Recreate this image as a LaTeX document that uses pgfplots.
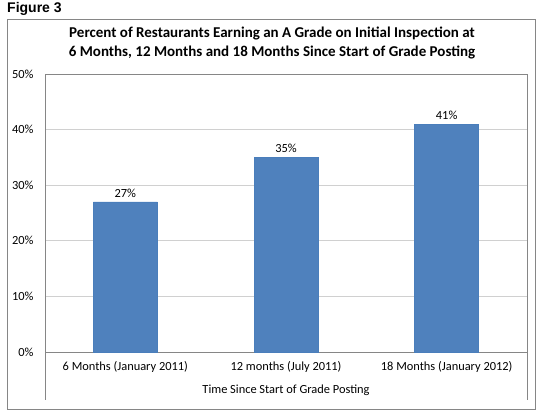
\documentclass[border=0pt]{standalone}
\usepackage{pgfplots}
\pgfplotsset{compat=1.18}
\usepackage{fontspec}
\setmainfont{Carlito}
\newfontfamily\arialfont{Liberation Sans}
\definecolor{barblue}{HTML}{4F81BD}
\definecolor{baredge}{HTML}{4A7EBB}
\definecolor{framegray}{HTML}{868686}
\definecolor{gridgray}{HTML}{D0D0D0}
\begin{document}
\begin{tikzpicture}[x=1pt,y=1pt]
\useasboundingbox (0,0) rectangle (543,412);
\draw[framegray,line width=0.8pt] (7,3) rectangle (535,393);
\node[anchor=base west,inner sep=0pt,font=\arialfont\bfseries\fontsize{14}{16}\selectfont] at (7,399) {Figure 3};
\node[align=center,inner sep=0pt,font=\bfseries\fontsize{15}{19}\selectfont] at (272,369) {Percent of Restaurants Earning an A Grade on Initial Inspection at\\6 Months, 12 Months and 18 Months Since Start of Grade Posting};
\begin{axis}[
  at={(45pt,60pt)}, anchor=south west,
  scale only axis, width=482pt, height=278pt,
  xmin=-0.5, xmax=2.5, ymin=0, ymax=50,
  xtick=data,
  xticklabels={6 Months (January 2011),12 months (July 2011),18 Months (January 2012)},
  ytick={0,10,20,30,40,50},
  yticklabel={\pgfmathprintnumber{\tick}\%},
  /pgf/number format/assume math mode=true,
  ymajorgrids, grid style={gridgray,line width=0.6pt},
  axis line style={framegray,line width=0.6pt},
  major tick length=0pt,
  tick label style={font=\fontsize{12.4}{14}\selectfont,text=black},
  yticklabel style={xshift=-8pt},
  xticklabel style={yshift=-6pt},
  ybar, bar width=64pt,
  nodes near coords={\pgfmathprintnumber{\pgfplotspointmeta}\%},
  nodes near coords style={font=\fontsize{12.4}{14}\selectfont,text=black,yshift=1pt},
  point meta=y,
  clip=false,
]
\addplot[fill=barblue,draw=baredge] coordinates {(0,27) (1,35) (2,41)};
\end{axis}
\node[font=\fontsize{12.4}{14}\selectfont] at (286,22) {Time Since Start of Grade Posting};
\draw[framegray,line width=0.6pt] (45,60) -- (45,12);
\draw[framegray,line width=0.6pt] (527,60) -- (527,12);
\end{tikzpicture}
\end{document}
